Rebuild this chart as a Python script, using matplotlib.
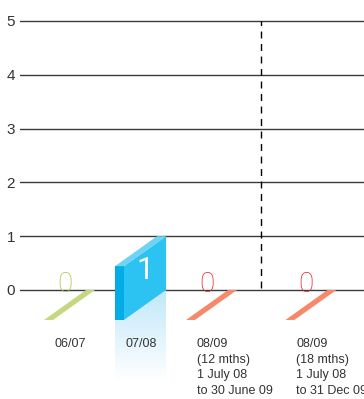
import numpy as np
import matplotlib
matplotlib.use("Agg")
import matplotlib.pyplot as plt
from matplotlib.patches import Polygon

plt.rcParams['font.family'] = ['Liberation Sans', 'DejaVu Sans']

# data
categories = ['06/07', '07/08',
              '08/09\n(12 mths)\n1 July 08\nto 30 June 09',
              '08/09\n(18 mths)\n1 July 08\nto 31 Dec 09']
values = [0, 1, 0, 0]
yticks = [0, 1, 2, 3, 4, 5]

# layout / style
slots = [0, 1, 2, 3.4]          # gap before the last category
top_col = ['#c5d880', '#6fd3f6', '#f7896b', '#f7896b']
label_col = ['#a9c53f', '#ffffff', '#e8212f', '#e8212f']
front_col = '#04ace6'
side_col = '#2cc3f2'
w, dx, dy = 0.127, 0.592, 0.557   # bar thickness and 3d depth offset
thin = ['Roboto', 'DejaVu Sans']

fig = plt.figure(figsize=(3.64, 3.99), dpi=100)
ax = fig.add_axes([20 / 364, 0, 344 / 364, 1])
ax.set_xlim(-0.338, 4.507)
ax.set_ylim(-2.026, 5.39)

for s in ax.spines.values():
    s.set_visible(False)
ax.set_xticks([])
ax.set_yticks(yticks)
ax.tick_params(axis='y', length=0, pad=3.6, labelsize=11, labelcolor='#333333')
ax.grid(axis='y', color='#3a3a3a', lw=1)
ax.set_axisbelow(True)

# separator between the 12 and 18 month periods
sep = (slots[2] + w + dx + slots[3]) / 2
ax.plot([sep, sep], [0.04, 5], color='black', lw=1, ls=(0, (5, 4)), zorder=1)

for x0, v, cat, tc, lc in zip(slots, values, categories, top_col, label_col):
    if v > 0:
        # reflection under the bar
        refl = Polygon([(x0, -dy), (x0 + w, -dy), (x0 + w + dx, 0),
                        (x0 + w + dx, -1.67), (x0, -1.67)], closed=True,
                       facecolor='none', edgecolor='none')
        ax.add_patch(refl)
        grad = np.linspace(0, 1, 100).reshape(-1, 1)
        cmap = matplotlib.colors.LinearSegmentedColormap.from_list(
            'r', ['#ffffff', '#c0e8fa'])
        im = ax.imshow(grad, extent=(x0, x0 + w + dx, -1.67, 0), origin='lower',
                       cmap=cmap, aspect='auto', zorder=2)
        im.set_clip_path(refl)
        # front, side and top faces
        ax.add_patch(Polygon([(x0, -dy), (x0 + w, -dy), (x0 + w, v - dy), (x0, v - dy)],
                             facecolor=front_col, edgecolor='none', zorder=3))
        ax.add_patch(Polygon([(x0 + w, -dy), (x0 + w, v - dy), (x0 + w + dx, v),
                              (x0 + w + dx, 0)],
                             facecolor=side_col, edgecolor='none', zorder=3))
        ax.add_patch(Polygon([(x0, v - dy), (x0 + w, v - dy), (x0 + w + dx, v),
                              (x0 + dx, v)],
                             facecolor=tc, edgecolor='none', zorder=3))
        ax.text(x0 + w + dx / 2, v * 0.36, str(v), color=lc, fontsize=22,
                family=thin, ha='center', va='center', zorder=4)
    else:
        ax.add_patch(Polygon([(x0, -dy), (x0 + w, -dy), (x0 + w + dx, 0),
                              (x0 + dx, 0)],
                             facecolor=tc, edgecolor='none', zorder=3))
        ax.text(x0 + 0.29, 0.11, str(v), color=lc, fontsize=20,
                family=thin, fontweight='light', ha='center', va='center',
                zorder=4)
    ax.text(x0 + 0.15, -0.89, cat, color='#333333', fontsize=9,
            ha='left', va='top', linespacing=1.42, zorder=5)

fig.savefig('out.png', dpi=100)
